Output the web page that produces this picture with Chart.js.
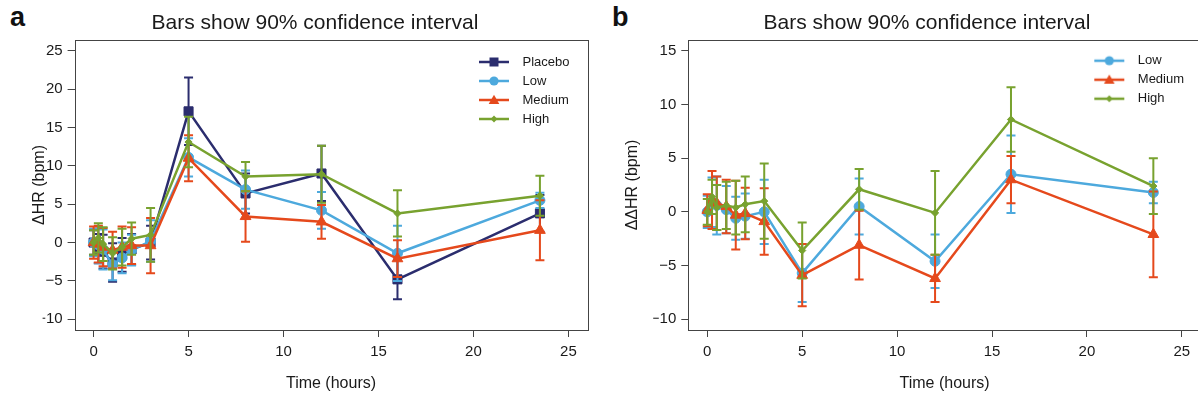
<!DOCTYPE html>
<html><head><meta charset="utf-8">
<script src="https://cdn.jsdelivr.net/npm/chart.js@4.4.1/dist/chart.umd.min.js"></script>
<style>
html,body{margin:0;padding:0;background:#fff;overflow:hidden;width:1198px;height:402px;position:relative;}
canvas{position:absolute;top:0;}
#cA{left:0}
#cB{left:600px}
.plab{position:absolute;font:bold 27px "Liberation Sans",Arial,sans-serif;color:#111;line-height:30px;}
</style></head><body>
<div class="plab" style="left:10px;top:2px">a</div>
<div class="plab" style="left:612px;top:2px">b</div>
<canvas id="cA" width="600" height="402"></canvas>
<canvas id="cB" width="610" height="402"></canvas>
<script>
// ---------- data ----------
const times = [0, 0.25, 0.5, 1, 1.5, 2, 3, 5, 8, 12, 16, 23.5];
const xTicks = [0, 5, 10, 15, 20, 25];
const yTicksA = [-10, -5, 0, 5, 10, 15, 20, 25];
const yTicksB = [-10, -5, 0, 5, 10, 15];

// panel a: change in HR (bpm) and 90% CI half-widths
const placeboA   = [0.0, -0.8, -1.2, -2.6, -1.6, -0.9, 0.0, 17.1, 6.4, 9.0, -4.8, 3.8];
const placeboCiA = [1.6, 1.9, 2.2, 2.5, 2.2, 2.0, 2.2, 4.4, 2.6, 3.6, 2.6, 2.4];
const lowA       = [0.0, -0.3, -0.9, -2.9, -2.0, -1.0, 0.2, 11.1, 6.9, 4.2, -1.4, 5.5];
const lowCiA     = [1.8, 2.4, 2.6, 2.0, 2.0, 2.0, 2.7, 2.5, 2.5, 2.4, 3.6, 1.0];
const mediumA    = [0.0, -0.2, -0.6, -1.0, -0.6, -0.4, -0.4, 11.0, 3.4, 2.7, -2.1, 1.6];
const mediumCiA  = [2.1, 2.4, 2.5, 2.4, 2.7, 2.4, 3.6, 3.0, 3.3, 2.2, 2.4, 3.9];
const highA      = [0.0, 0.6, -0.2, -1.4, -0.6, 0.5, 1.0, 13.1, 8.6, 8.9, 3.8, 6.1];
const highCiA    = [1.6, 1.9, 2.2, 2.1, 2.4, 2.1, 3.5, 3.3, 1.9, 3.7, 3.0, 2.6];

// panel b: placebo-corrected change (bpm)
const lowB       = [0.0, 0.9, 0.6, 0.2, -0.6, -0.4, 0.0, -5.7, 0.5, -4.6, 3.5, 1.8];
const lowCiB     = [1.5, 2.3, 2.7, 2.2, 2.0, 2.1, 3.0, 2.7, 2.6, 2.5, 3.6, 1.0];
const mediumB    = [0.15, 1.1, 0.8, 0.5, -0.3, -0.15, -0.9, -5.9, -3.1, -6.2, 3.0, -2.1];
const mediumCiB  = [1.5, 2.7, 2.5, 2.5, 3.2, 2.4, 3.1, 2.9, 3.2, 2.2, 2.2, 4.0];
const highB      = [0.0, 1.4, 0.4, 0.6, 0.4, 0.7, 1.0, -3.6, 2.1, -0.1, 8.6, 2.4];
const highCiB    = [1.2, 1.6, 2.1, 2.2, 2.5, 2.6, 3.5, 2.6, 1.9, 3.9, 3.0, 2.6];

// ---------- styling ----------
const FONT = '"Liberation Sans", Arial, Helvetica, sans-serif';
Chart.defaults.font.family = FONT;
const COL = {Placebo: '#2B2D6E', Low: '#4DA9DD', Medium: '#E5491C', High: '#78A22F'};
const STYLE = {Placebo: ['rect', 6.4], Low: ['circle', 5], Medium: ['triangle', 6.2], High: ['rectRot', 3.6]};

function legendIcon(color, style) {
  const c = document.createElement('canvas'); c.width = 32; c.height = 14;
  const g = c.getContext('2d');
  g.strokeStyle = color; g.lineWidth = 2.5;
  g.beginPath(); g.moveTo(1, 7); g.lineTo(31, 7); g.stroke();
  g.fillStyle = color; g.beginPath();
  if (style === 'rect') g.rect(11.5, 2.5, 9, 9);
  else if (style === 'circle') g.arc(16, 7, 4.6, 0, Math.PI * 2);
  else if (style === 'triangle') { g.moveTo(16, 1.8); g.lineTo(21.3, 11); g.lineTo(10.7, 11); g.closePath(); }
  else { g.moveTo(16, 3.6); g.lineTo(19.4, 7); g.lineTo(16, 10.4); g.lineTo(12.6, 7); g.closePath(); }
  g.fill();
  return c;
}
const ICONS = {};
for (const k in COL) ICONS[k] = legendIcon(COL[k], STYLE[k][0]);

function series(label, values, ci, order) {
  const color = COL[label];
  return {
    label, ci, order,
    data: times.map((t, i) => ({x: t, y: values[i]})),
    borderColor: color, backgroundColor: color,
    pointBackgroundColor: color, pointBorderColor: color,
    pointStyle: STYLE[label][0], pointRadius: STYLE[label][1], pointBorderWidth: 1,
    borderWidth: 2.5, tension: 0, fill: false
  };
}

const errorBarPlugin = {
  id: 'errorBars',
  beforeDatasetDraw(chart, args) {
    const ds = chart.data.datasets[args.index];
    if (!ds.ci) return;
    const {ctx, scales: {x, y}} = chart;
    ctx.save();
    ctx.strokeStyle = ds.borderColor; ctx.lineWidth = 2;
    ds.data.forEach((p, i) => {
      const px = x.getPixelForValue(p.x);
      const t = y.getPixelForValue(p.y + ds.ci[i]);
      const b = y.getPixelForValue(p.y - ds.ci[i]);
      ctx.beginPath();
      ctx.moveTo(px, t); ctx.lineTo(px, b);
      ctx.moveTo(px - 4.5, t); ctx.lineTo(px + 4.5, t);
      ctx.moveTo(px - 4.5, b); ctx.lineTo(px + 4.5, b);
      ctx.stroke();
    });
    ctx.restore();
  }
};

const framePlugin = {
  id: 'frame',
  afterDatasetsDraw(chart) {
    const {ctx, chartArea: a} = chart;
    ctx.save(); ctx.strokeStyle = '#444'; ctx.lineWidth = 1;
    ctx.strokeRect(Math.round(a.left) + 0.5, Math.round(a.top) + 0.5, Math.round(a.right - a.left), Math.round(a.bottom - a.top));
    ctx.restore();
  }
};

const legendPlace = {
  id: 'legendPlace',
  beforeDraw(chart, args, opts) {
    const L = chart.legend; if (!L) return;
    L.left = opts.left; L.top = opts.top; L.right = L.left + L.width; L.bottom = L.top + 200;
  }
};

const minusFmt = v => (v < 0 ? '\u2212' + Math.abs(v) : String(v));

function makeChart(id, datasets, yMin, yMax, yTicks, yTitle, cfg) {
  return new Chart(document.getElementById(id), {
    type: 'line',
    data: {datasets},
    options: {
      responsive: false, animation: false, devicePixelRatio: 1,
      layout: {padding: {left: cfg.padL, right: cfg.padR, top: 0, bottom: 0}},
      scales: {
        x: {
          type: 'linear', min: -1, max: 26,
          afterBuildTicks: s => { s.ticks = xTicks.map(v => ({value: v})); },
          afterFit: s => { s.height = 72; },
          grid: {display: true, drawOnChartArea: false, drawTicks: true, tickLength: 7, color: '#444', lineWidth: 1},
          border: {display: false},
          ticks: {font: {size: 15}, color: '#1a1a1a', padding: 6, maxRotation: 0, autoSkip: false, callback: minusFmt},
          title: {display: true, text: 'Time (hours)', font: {size: 16}, color: '#1a1a1a', padding: {top: 0, bottom: 9}}
        },
        y: {
          type: 'linear', min: yMin, max: yMax,
          afterBuildTicks: s => { s.ticks = yTicks.map(v => ({value: v})); },
          afterFit: s => { s.width = cfg.yW; },
          grid: {display: true, drawOnChartArea: false, drawTicks: true, tickLength: 7, color: '#444', lineWidth: 1},
          border: {display: false},
          ticks: {font: {size: 15}, color: '#1a1a1a', padding: 5, autoSkip: false, callback: minusFmt},
          title: {display: true, text: yTitle, font: {size: 16}, color: '#1a1a1a', padding: {top: cfg.yTitlePad, bottom: 0}}
        }
      },
      plugins: {
        title: {display: true, text: 'Bars show 90% confidence interval', font: {size: 21, weight: 'normal'}, color: '#1a1a1a', padding: {top: 10.4, bottom: 4.4}},
        legend: {
          display: true, position: 'chartArea', align: 'start',
          labels: {
            usePointStyle: true, pointStyleWidth: 44, boxHeight: 13, padding: 6,
            font: {size: 13}, color: '#1a1a1a',
            generateLabels: chart => chart.data.datasets.map((ds, i) => ({
              text: ds.label, pointStyle: ICONS[ds.label], datasetIndex: i,
              fillStyle: ds.borderColor, strokeStyle: ds.borderColor, lineWidth: 0, hidden: false, fontColor: '#1a1a1a'
            }))
          }
        },
        legendPlace: {left: cfg.legL, top: cfg.legT},
        tooltip: {enabled: false}
      }
    },
    plugins: [errorBarPlugin, framePlugin, legendPlace]
  });
}

makeChart('cA', [
  series('Placebo', placeboA, placeboCiA, 4),
  series('Low', lowA, lowCiA, 3),
  series('Medium', mediumA, mediumCiA, 2),
  series('High', highA, highCiA, 1)
], -11.4, 26.4, yTicksA, '\u0394HR (bpm)', {padL: 42.6, padR: 12.6, yW: 32, yTitlePad: -12.2, legL: 466, legT: 49.5});

makeChart('cB', [
  series('Low', lowB, lowCiB, 3),
  series('Medium', mediumB, mediumCiB, 2),
  series('High', highB, highCiB, 1)
], -11, 16, yTicksB, '\u0394\u0394HR (bpm)', {padL: 53.2, padR: 9.2, yW: 35.1, yTitlePad: -29.8, legL: 481.3, legT: 48.2});
</script>
</body></html>
